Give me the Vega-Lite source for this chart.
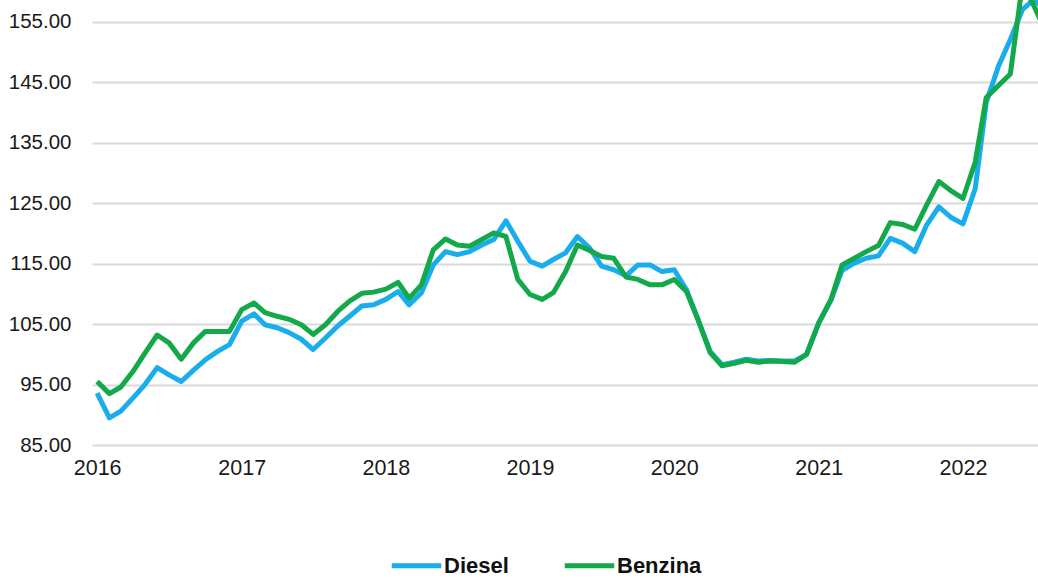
{
  "$schema": "https://vega.github.io/schema/vega-lite/v6.json",
  "width": 946,
  "height": 445,
  "autosize": "none",
  "padding": {"left": 92, "top": 0, "right": 0, "bottom": 133},
  "background": "white",
  "config": {
    "view": {"stroke": null},
    "font": "Liberation Sans"
  },
  "data": {
    "values": [
      {"date": "2016-01-01", "Diesel": 93.6, "Benzina": 95.5},
      {"date": "2016-02-01", "Diesel": 89.5, "Benzina": 93.5},
      {"date": "2016-03-01", "Diesel": 90.6, "Benzina": 94.6},
      {"date": "2016-04-01", "Diesel": 92.8, "Benzina": 97.2},
      {"date": "2016-05-01", "Diesel": 95.0, "Benzina": 100.2},
      {"date": "2016-06-01", "Diesel": 97.8, "Benzina": 103.2},
      {"date": "2016-07-01", "Diesel": 96.6, "Benzina": 101.9},
      {"date": "2016-08-01", "Diesel": 95.5, "Benzina": 99.2},
      {"date": "2016-09-01", "Diesel": 97.4, "Benzina": 101.9},
      {"date": "2016-10-01", "Diesel": 99.1, "Benzina": 103.8},
      {"date": "2016-11-01", "Diesel": 100.5, "Benzina": 103.8},
      {"date": "2016-12-01", "Diesel": 101.6, "Benzina": 103.8},
      {"date": "2017-01-01", "Diesel": 105.5, "Benzina": 107.4},
      {"date": "2017-02-01", "Diesel": 106.7, "Benzina": 108.5},
      {"date": "2017-03-01", "Diesel": 104.9, "Benzina": 106.9},
      {"date": "2017-04-01", "Diesel": 104.4, "Benzina": 106.3},
      {"date": "2017-05-01", "Diesel": 103.6, "Benzina": 105.8},
      {"date": "2017-06-01", "Diesel": 102.5, "Benzina": 104.9},
      {"date": "2017-07-01", "Diesel": 100.8, "Benzina": 103.3},
      {"date": "2017-08-01", "Diesel": 102.7, "Benzina": 104.9},
      {"date": "2017-09-01", "Diesel": 104.7, "Benzina": 107.1},
      {"date": "2017-10-01", "Diesel": 106.3, "Benzina": 108.8},
      {"date": "2017-11-01", "Diesel": 108.0, "Benzina": 110.1},
      {"date": "2017-12-01", "Diesel": 108.2, "Benzina": 110.3},
      {"date": "2018-01-01", "Diesel": 109.1, "Benzina": 110.8},
      {"date": "2018-02-01", "Diesel": 110.4, "Benzina": 111.9},
      {"date": "2018-03-01", "Diesel": 108.2, "Benzina": 109.3},
      {"date": "2018-04-01", "Diesel": 110.2, "Benzina": 111.5},
      {"date": "2018-05-01", "Diesel": 114.8, "Benzina": 117.3},
      {"date": "2018-06-01", "Diesel": 117.0, "Benzina": 119.1},
      {"date": "2018-07-01", "Diesel": 116.5, "Benzina": 118.1},
      {"date": "2018-08-01", "Diesel": 117.0, "Benzina": 117.9},
      {"date": "2018-09-01", "Diesel": 118.1, "Benzina": 119.0},
      {"date": "2018-10-01", "Diesel": 119.0, "Benzina": 120.1},
      {"date": "2018-11-01", "Diesel": 122.1, "Benzina": 119.5},
      {"date": "2018-12-01", "Diesel": 118.7, "Benzina": 112.4},
      {"date": "2019-01-01", "Diesel": 115.4, "Benzina": 109.9},
      {"date": "2019-02-01", "Diesel": 114.6, "Benzina": 109.1},
      {"date": "2019-03-01", "Diesel": 115.7, "Benzina": 110.2},
      {"date": "2019-04-01", "Diesel": 116.8, "Benzina": 113.7},
      {"date": "2019-05-01", "Diesel": 119.5, "Benzina": 118.1},
      {"date": "2019-06-01", "Diesel": 117.6, "Benzina": 117.2},
      {"date": "2019-07-01", "Diesel": 114.6, "Benzina": 116.2},
      {"date": "2019-08-01", "Diesel": 114.0, "Benzina": 115.9},
      {"date": "2019-09-01", "Diesel": 113.0, "Benzina": 112.8},
      {"date": "2019-10-01", "Diesel": 114.8, "Benzina": 112.4},
      {"date": "2019-11-01", "Diesel": 114.8, "Benzina": 111.5},
      {"date": "2019-12-01", "Diesel": 113.7, "Benzina": 111.5},
      {"date": "2020-01-01", "Diesel": 114.0, "Benzina": 112.4},
      {"date": "2020-02-01", "Diesel": 110.7, "Benzina": 110.4},
      {"date": "2020-03-01", "Diesel": 105.8, "Benzina": 105.8},
      {"date": "2020-04-01", "Diesel": 100.5, "Benzina": 100.3},
      {"date": "2020-05-01", "Diesel": 98.3, "Benzina": 98.1},
      {"date": "2020-06-01", "Diesel": 98.7, "Benzina": 98.5},
      {"date": "2020-07-01", "Diesel": 99.2, "Benzina": 99.0},
      {"date": "2020-08-01", "Diesel": 98.9, "Benzina": 98.7},
      {"date": "2020-09-01", "Diesel": 99.0, "Benzina": 98.9},
      {"date": "2020-10-01", "Diesel": 98.9, "Benzina": 98.8},
      {"date": "2020-11-01", "Diesel": 98.9, "Benzina": 98.7},
      {"date": "2020-12-01", "Diesel": 100.0, "Benzina": 100.0},
      {"date": "2021-01-01", "Diesel": 105.2, "Benzina": 105.2},
      {"date": "2021-02-01", "Diesel": 109.0, "Benzina": 109.1},
      {"date": "2021-03-01", "Diesel": 113.9, "Benzina": 114.8},
      {"date": "2021-04-01", "Diesel": 115.1, "Benzina": 115.9},
      {"date": "2021-05-01", "Diesel": 115.9, "Benzina": 117.0},
      {"date": "2021-06-01", "Diesel": 116.3, "Benzina": 118.0},
      {"date": "2021-07-01", "Diesel": 119.2, "Benzina": 121.8},
      {"date": "2021-08-01", "Diesel": 118.4, "Benzina": 121.5},
      {"date": "2021-09-01", "Diesel": 117.0, "Benzina": 120.7},
      {"date": "2021-10-01", "Diesel": 121.4, "Benzina": 124.7},
      {"date": "2021-11-01", "Diesel": 124.4, "Benzina": 128.6},
      {"date": "2021-12-01", "Diesel": 122.7, "Benzina": 127.1},
      {"date": "2022-01-01", "Diesel": 121.6, "Benzina": 125.8},
      {"date": "2022-02-01", "Diesel": 127.4, "Benzina": 131.8},
      {"date": "2022-03-01", "Diesel": 141.7, "Benzina": 142.5},
      {"date": "2022-04-01", "Diesel": 147.7, "Benzina": 144.5},
      {"date": "2022-05-01", "Diesel": 152.1, "Benzina": 146.4},
      {"date": "2022-06-01", "Diesel": 157.1, "Benzina": 161.5},
      {"date": "2022-07-01", "Diesel": 158.8, "Benzina": 157.5},
      {"date": "2022-08-01", "Diesel": 156.5, "Benzina": 153.0}
    ]
  },
  "transform": [
    {"fold": ["Diesel", "Benzina"], "as": ["fuel", "value"]}
  ],
  "mark": {"type": "line", "strokeWidth": 5, "clip": true, "strokeJoin": "round", "strokeCap": "butt"},
  "encoding": {
    "x": {
      "field": "date",
      "type": "temporal",
      "scale": {
        "type": "utc",
        "domain": [
          {"year": 2015, "month": 12, "date": 19, "utc": true},
          {"year": 2022, "month": 7, "date": 10, "utc": true}
        ]
      },
      "axis": {
        "title": null,
        "format": "%Y",
        "formatType": "utc",
        "tickCount": {"interval": "year", "step": 1},
        "grid": false,
        "domain": false,
        "ticks": false,
        "labelFontSize": 21.5,
        "labelColor": "#1a1a1a",
        "labelPadding": 12,
        "labelFlush": false
      }
    },
    "y": {
      "field": "value",
      "type": "quantitative",
      "scale": {"domain": [85, 158.64], "nice": false, "zero": false},
      "axis": {
        "title": null,
        "values": [85, 95, 105, 115, 125, 135, 145, 155],
        "format": ".2f",
        "grid": true,
        "gridColor": "#d9d9d9",
        "gridWidth": 2,
        "domain": false,
        "ticks": false,
        "labelFontSize": 20.5,
        "labelColor": "#1a1a1a",
        "labelPadding": 21
      }
    },
    "color": {
      "field": "fuel",
      "type": "nominal",
      "scale": {"domain": ["Diesel", "Benzina"], "range": ["#1AADED", "#13A84A"]},
      "legend": {
        "title": null,
        "orient": "none",
        "direction": "horizontal",
        "legendX": 297,
        "legendY": 538,
        "symbolType": "stroke",
        "symbolSize": 2450,
        "symbolStrokeWidth": 5,
        "labelFontSize": 22,
        "labelFontWeight": "bold",
        "labelColor": "#111111",
        "labelOffset": 0,
        "columnPadding": 45
      }
    }
  }
}
